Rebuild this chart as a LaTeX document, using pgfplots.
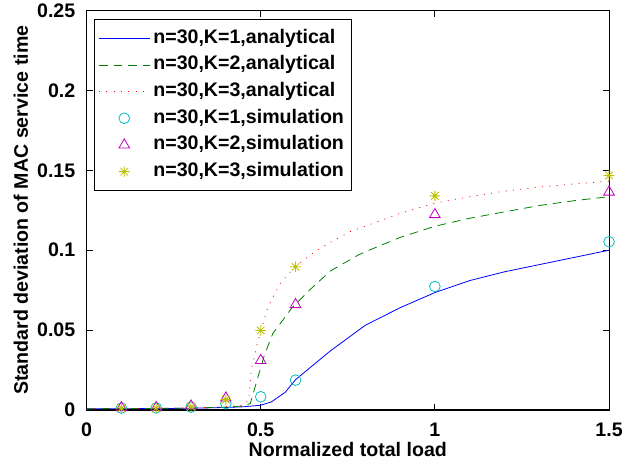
\documentclass[border=0pt]{standalone}
\usepackage{fontspec}
\setmainfont{Liberation Sans}
\usepackage{pgfplots}
\pgfplotsset{compat=1.18}
\definecolor{mblue}{rgb}{0,0,1}
\definecolor{mgreen}{rgb}{0,0.5,0}
\definecolor{mred}{rgb}{1,0,0}
\definecolor{mcyan}{rgb}{0,0.75,0.75}
\definecolor{mmag}{rgb}{0.75,0,0.75}
\definecolor{myel}{rgb}{0.75,0.75,0}
\pgfdeclareplotmark{mlstar}{%
  \pgfpathmoveto{\pgfpoint{0pt}{\pgfplotmarksize}}\pgfpathlineto{\pgfpoint{0pt}{-\pgfplotmarksize}}%
  \pgfpathmoveto{\pgfpoint{\pgfplotmarksize}{0pt}}\pgfpathlineto{\pgfpoint{-\pgfplotmarksize}{0pt}}%
  \pgfpathmoveto{\pgfpoint{0.7071\pgfplotmarksize}{0.7071\pgfplotmarksize}}\pgfpathlineto{\pgfpoint{-0.7071\pgfplotmarksize}{-0.7071\pgfplotmarksize}}%
  \pgfpathmoveto{\pgfpoint{-0.7071\pgfplotmarksize}{0.7071\pgfplotmarksize}}\pgfpathlineto{\pgfpoint{0.7071\pgfplotmarksize}{-0.7071\pgfplotmarksize}}%
  \pgfusepathqstroke}
\newcommand\ff{\fontsize{14.7}{17}\selectfont\bfseries}
\begin{document}
\begin{tikzpicture}
\useasboundingbox (-64.9pt,-43.5pt) rectangle (403.1pt,307.5pt);
\begin{axis}[
  at={(0,0)}, anchor=south west,
  scale only axis, width=391.9pt, height=299.6pt,
  xmin=0, xmax=1.5, ymin=0, ymax=0.25,
  xtick={0,0.5,1,1.5}, xticklabels={0,0.5,1,1.5},
  ytick={0,0.05,0.1,0.15,0.2,0.25}, yticklabels={0,0.05,0.1,0.15,0.2,0.25},
  tick align=inside, major tick length=4.5pt,
  axis line style={line width=0.8pt},
  every tick/.style={black, line width=0.8pt},
  tick label style={font=\ff},
  xticklabel style={anchor=base, inner sep=0pt, yshift=-20pt},
  yticklabel style={anchor=east, xshift=-4.9pt},
  xlabel={Normalized total load},
  ylabel={Standard deviation of MAC service time},
  xlabel style={font=\ff, inner sep=0pt, at={(axis description cs:0.5,0)}, anchor=base, yshift=-35.2pt},
  ylabel style={font=\ff, inner sep=0pt, at={(axis description cs:0,0.5)}, anchor=base, yshift=43.9pt},
  legend cell align=left,
  legend style={at={(5.6pt,293.2pt)}, anchor=north west, font=\ff,
    draw=black, line width=0.8pt, inner xsep=3pt, inner ysep=4pt, row sep=0pt,
    nodes={inner ysep=2.75pt, inner xsep=2.5pt, text height=11pt, text depth=3.5pt}},
  legend image code/.code={\draw[mark repeat=2,mark phase=2,#1] plot coordinates {(0pt,0pt) (19pt,0pt) (38pt,0pt)};},
]
\addplot[mblue, line width=0.6pt] coordinates {
(0,0.0007)(0.1,0.0008)(0.2,0.0009)(0.3,0.0011)(0.4,0.0016)(0.45,0.002)(0.5,0.003)(0.53,0.005)(0.57,0.011)(0.6,0.019)(0.65,0.028)(0.7,0.037)(0.8,0.053)(0.9,0.064)(1.0,0.0735)(1.1,0.081)(1.2,0.0865)(1.3,0.091)(1.4,0.0955)(1.5,0.1)};
\addlegendentry{n=30,K=1,analytical}
\addplot[mgreen, line width=0.6pt, dash pattern=on 6.5pt off 4.5pt] coordinates {
(0,0.0007)(0.1,0.001)(0.2,0.001)(0.3,0.0012)(0.4,0.0018)(0.45,0.0025)(0.47,0.004)(0.49,0.019)(0.51,0.034)(0.535,0.048)(0.59,0.064)(0.64,0.075)(0.7,0.087)(0.78,0.097)(0.8,0.099)(0.9,0.108)(1.0,0.115)(1.1,0.120)(1.2,0.124)(1.3,0.128)(1.4,0.131)(1.5,0.1335)};
\addlegendentry{n=30,K=2,analytical}
\addplot[mred, line width=0.6pt, dash pattern=on 0.7pt off 4.8pt] coordinates {
(0,0.0007)(0.1,0.001)(0.2,0.001)(0.3,0.0013)(0.4,0.002)(0.45,0.003)(0.465,0.006)(0.473,0.025)(0.49,0.0415)(0.52,0.064)(0.555,0.079)(0.595,0.089)(0.645,0.0975)(0.7,0.105)(0.76,0.112)(0.8,0.115)(0.9,0.123)(1.0,0.1295)(1.1,0.1335)(1.2,0.137)(1.3,0.1395)(1.4,0.1415)(1.5,0.1432)};
\addlegendentry{n=30,K=3,analytical}
\addplot[mcyan, only marks, mark=o, mark size=4pt, mark options={line width=0.6pt}] coordinates {
(0.1,0.0012)(0.2,0.0013)(0.3,0.0018)(0.4,0.0040)(0.5,0.0083)(0.6,0.0187)(1.0,0.0773)(1.5,0.1053)};
\addlegendentry{n=30,K=1,simulation}
\addplot[mmag, only marks, mark=triangle, mark size=4.6pt, mark options={line width=0.6pt}] coordinates {
(0.1,0.0015)(0.2,0.0015)(0.3,0.0025)(0.4,0.0075)(0.5,0.031)(0.6,0.066)(1.0,0.1223)(1.5,0.1364)};
\addlegendentry{n=30,K=2,simulation}
\addplot[myel, only marks, mark=mlstar, mark size=4pt, mark options={line width=0.6pt}] coordinates {
(0.1,0.0012)(0.2,0.0012)(0.3,0.002)(0.4,0.0065)(0.5,0.0498)(0.6,0.0896)(1.0,0.134)(1.5,0.1468)};
\addlegendentry{n=30,K=3,simulation}
\end{axis}
\end{tikzpicture}
\end{document}
